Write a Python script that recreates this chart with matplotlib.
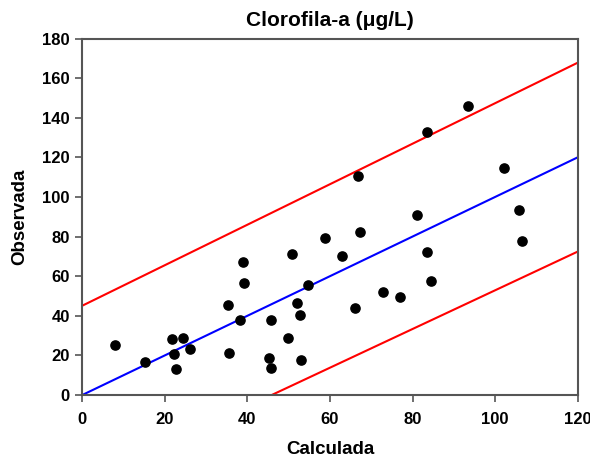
import matplotlib.pyplot as plt

plt.rcParams['font.family'] = ['Liberation Sans', 'DejaVu Sans']
plt.rcParams['font.weight'] = 'bold'

# calculated vs observed chlorophyll-a
calculada = [7.9, 15.3, 21.7, 22.3, 22.7, 24.3, 26.2, 35.4, 35.6, 38.2, 39.0, 39.2,
             45.2, 45.6, 45.7, 49.8, 50.9, 52.0, 52.7, 52.9, 54.7, 58.9, 62.9, 66.8,
             67.3, 66.1, 72.9, 76.9, 81.0, 83.4, 83.5, 84.4, 93.5, 102.1, 105.7, 106.6]
observada = [25.1, 16.8, 28.1, 20.9, 13.0, 28.6, 23.4, 45.6, 21.0, 37.9, 67.3, 56.7,
             18.9, 37.9, 13.5, 28.9, 71.0, 46.5, 40.4, 17.5, 55.4, 79.3, 70.0, 110.6,
             82.5, 44.1, 51.9, 49.5, 90.8, 72.4, 132.7, 57.4, 146.1, 114.5, 93.6, 77.9]

# 1:1 line and confidence limits (endpoints)
linea_x = [0, 120]
linea_y = [0, 120]
sup_x = [0, 120]
sup_y = [45.1, 167.8]
inf_x = [45.9, 120]
inf_y = [0, 72.4]

fig = plt.figure(figsize=(5.9, 4.61), dpi=100)
ax = fig.add_axes([0.1395, 0.1432, 0.8395, 0.7731])

ax.plot(linea_x, linea_y, color='#0000ff', lw=1.5)
ax.plot(sup_x, sup_y, color='#ff0000', lw=1.5)
ax.plot(inf_x, inf_y, color='#ff0000', lw=1.5)
ax.scatter(calculada, observada, s=44, color='black', zorder=3)

ax.set_xlim(0, 120)
ax.set_ylim(0, 180)
ax.set_xticks(range(0, 121, 20))
ax.set_yticks(range(0, 181, 20))

for s in ax.spines.values():
    s.set_color('#555555')
    s.set_linewidth(1.5)
ax.tick_params(direction='out', length=5, width=1.2, color='#555555',
               labelsize=12, top=False, right=False)
ax.tick_params(axis='x', pad=7)
ax.tick_params(axis='y', pad=4)

ax.set_title('Clorofila-a (\u03bcg/L)', fontsize=15, fontweight='bold', pad=9)
ax.set_xlabel('Calculada', fontsize=13.5, fontweight='bold', labelpad=10)
ax.set_ylabel('Observada', fontsize=13.5, fontweight='bold', labelpad=10)

fig.savefig('out.png', dpi=100)
